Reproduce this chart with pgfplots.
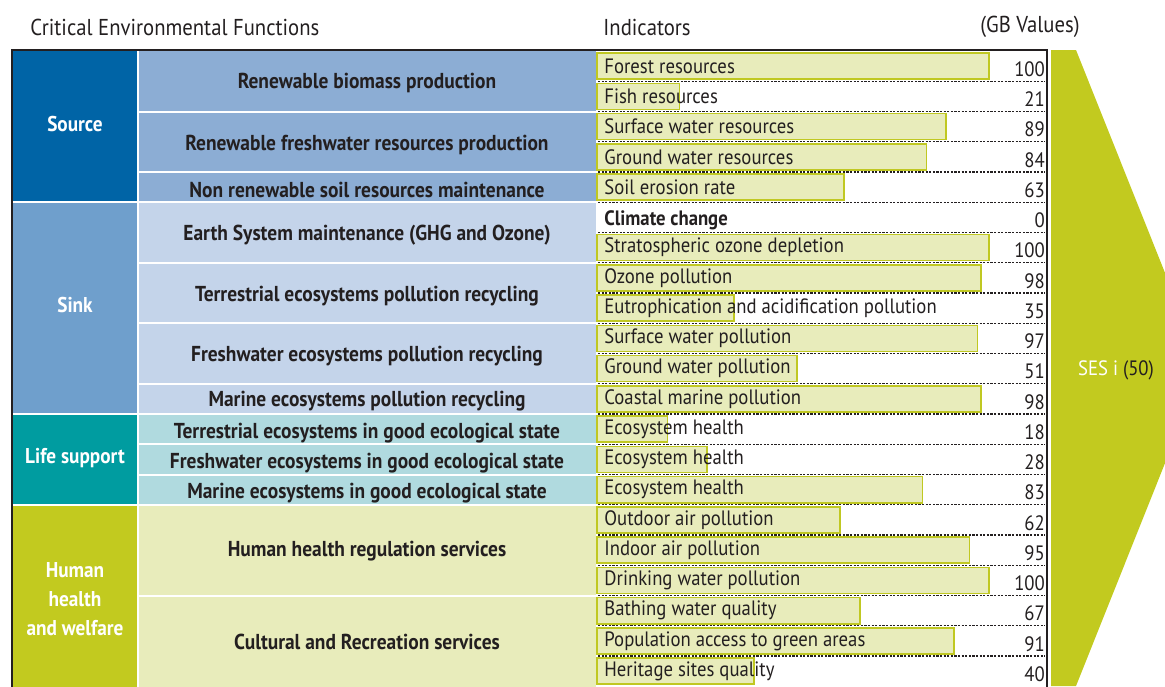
\documentclass[border=0pt]{standalone}
\usepackage{fontspec}
\setmainfont{PT Sans}[FakeStretch=0.9]
\usepackage{pgfplots}
\pgfplotsset{compat=1.18}
\usepackage{pgfplotstable}
\definecolor{srcDark}{HTML}{0064A6}
\definecolor{srcLight}{HTML}{8CADD4}
\definecolor{sinkDark}{HTML}{6F9FCC}
\definecolor{sinkLight}{HTML}{C4D4EA}
\definecolor{lifeDark}{HTML}{009CA0}
\definecolor{lifeLight}{HTML}{B0DADF}
\definecolor{humDark}{HTML}{C2CA1F}
\definecolor{humLight}{HTML}{E8ECBB}
\definecolor{barFill}{HTML}{E8ECBB}
\definecolor{barDraw}{HTML}{C0C822}
\definecolor{txt}{HTML}{231F20}

\pgfplotstableread[col sep=comma]{
row,v,name
0,100,Forest resources
1,21,Fish resources
2,89,Surface water resources
3,84,Ground water resources
4,63,Soil erosion rate
5,0,Climate change
6,100,Stratospheric ozone depletion
7,98,Ozone pollution
8,35,Eutrophication and acidification pollution
9,97,Surface water pollution
10,51,Ground water pollution
11,98,Coastal marine pollution
12,18,Ecosystem health
13,28,Ecosystem health
14,83,Ecosystem health
15,62,Outdoor air pollution
16,95,Indoor air pollution
17,100,Drinking water pollution
18,67,Bathing water quality
19,91,Population access to green areas
20,40,Heritage sites quality
}\indtable

\newcommand\hdrfont{\fontsize{11.5}{13}\selectfont}
\newcommand\indfont{\fontsize{10.4}{12}\selectfont}
\newcommand\funfont{\bfseries\fontsize{10.8}{12}\selectfont}
\newcommand\catfont{\bfseries\fontsize{10.7}{14.5}\selectfont}

\pgfplotsset{txtlabels/.style={only marks, mark=text, text mark={},
    point meta=explicit symbolic, nodes near coords={\pgfplotspointmeta}}}

\begin{document}
\begin{tikzpicture}
\begin{scope}[x=0.5pt,y=-0.5pt]
  % category column
  \begin{scope}[draw=white,line width=1pt]
  \filldraw[fill=srcDark]  (12,50) rectangle (138,202.25);
  \filldraw[fill=sinkDark] (12,202.25) rectangle (138,414);
  \filldraw[fill=lifeDark] (12,414) rectangle (138,504.75);
  \filldraw[fill=humDark]  (12,504.75) rectangle (138,700);
  % function column
  \filldraw[fill=srcLight] (138,50) rectangle (596.5,111.5);
  \filldraw[fill=srcLight] (138,111.5) rectangle (596.5,172);
  \filldraw[fill=srcLight] (138,172) rectangle (596.5,202.25);
  \filldraw[fill=sinkLight] (138,202.25) rectangle (596.5,262.75);
  \filldraw[fill=sinkLight] (138,262.75) rectangle (596.5,323.25);
  \filldraw[fill=sinkLight] (138,323.25) rectangle (596.5,383.75);
  \filldraw[fill=sinkLight] (138,383.75) rectangle (596.5,414);
  \filldraw[fill=lifeLight] (138,414) rectangle (596.5,444.25);
  \filldraw[fill=lifeLight] (138,444.25) rectangle (596.5,474.5);
  \filldraw[fill=lifeLight] (138,474.5) rectangle (596.5,504.75);
  \filldraw[fill=humLight] (138,504.75) rectangle (596.5,595.5);
  \filldraw[fill=humLight] (138,595.5) rectangle (596.5,700);
  \end{scope}
  % dashed separators
  \foreach \k in {1,...,20}
    \draw[txt,line width=0.55pt,dash pattern=on 1.1pt off 0.7pt] (598,{51+30.25*\k}) -- (1045,{51+30.25*\k});
  % arrow
  \fill[humDark] (1051,50) -- (1076,50) -- (1203,368) -- (1076,686) -- (1051,686) -- cycle;
  \node[font=\indfont,inner sep=0pt] at (1116,370) {\textcolor{white}{SES i} \textcolor{txt}{(50)}};
  % headers
  \node[font=\hdrfont,text=txt,anchor=west,inner sep=0pt] at (30,27) {Critical Environmental Functions};
  \node[font=\hdrfont,text=txt,anchor=west,inner sep=0pt] at (603,27) {Indicators};
  \node[font=\hdrfont,text=txt,anchor=east,inner sep=0pt] at (1080,27) {(GB Values)};
  % categories
  \begin{scope}[every node/.style={font=\catfont,text=white,align=center,inner sep=0pt}]
  \node at (75,124) {Source};
  \node at (75,305) {Sink};
  \node at (75,458) {Life support};
  \node at (75,599) {Human\\health\\and welfare};
  \end{scope}
  % functions
  \begin{scope}[every node/.style={font=\funfont,text=txt,inner sep=0pt}]
  \node at (367,83) {Renewable biomass production};
  \node at (367,144.5) {Renewable freshwater resources production};
  \node at (367,190) {Non renewable soil resources maintenance};
  \node at (367,235) {Earth System maintenance (GHG and Ozone)};
  \node at (367,296) {Terrestrial ecosystems pollution recycling};
  \node at (367,356) {Freshwater ecosystems pollution recycling};
  \node at (367,401.5) {Marine ecosystems pollution recycling};
  \node at (367,433) {Terrestrial ecosystems in good ecological state};
  \node at (367,463) {Freshwater ecosystems in good ecological state};
  \node at (367,493.5) {Marine ecosystems in good ecological state};
  \node at (367,551.5) {Human health regulation services};
  \node at (367,641.5) {Cultural and Recreation services};
  \end{scope}
\end{scope}

\begin{axis}[at={(298.5pt,-25.5pt)}, anchor=north west, scale only axis,
  width=224.5pt, height=317.625pt, xmin=0, xmax=114.5, ymin=-0.5, ymax=20.5,
  y dir=reverse, hide axis, clip=false]
  \addplot[xbar, bar width=0.86, fill=barFill, draw=barDraw, line width=0.85pt,
    restrict x to domain=0.5:200] table[x=v, y=row]{\indtable};
  \addplot[txtlabels, skip coords between index={5}{6},
    nodes near coords style={anchor=west, inner sep=0pt, xshift=3.5pt, font=\indfont, text=txt}]
    table[x expr=0, y=row, meta=name]{\indtable};
  \addplot[txtlabels, skip coords between index={0}{5}, skip coords between index={6}{21},
    nodes near coords style={anchor=west, inner sep=0pt, xshift=3.5pt, yshift=-1.5pt, font=\indfont\bfseries, text=txt}]
    table[x expr=0, y=row, meta=name]{\indtable};
  \addplot[txtlabels,
    nodes near coords style={anchor=east, inner sep=0pt, yshift=-1.5pt, xshift=1pt, font=\indfont, text=txt}]
    table[x expr=113.8, y=row, meta=v]{\indtable};
\end{axis}

\begin{scope}[x=0.5pt,y=-0.5pt]
  \draw[txt,line width=1.2pt] (12,700) -- (12,50) -- (1047,50) -- (1047,700);
\end{scope}
\pgfresetboundingbox
\path[use as bounding box] (0,0) rectangle (582.5pt,-343pt);
\end{tikzpicture}
\end{document}
